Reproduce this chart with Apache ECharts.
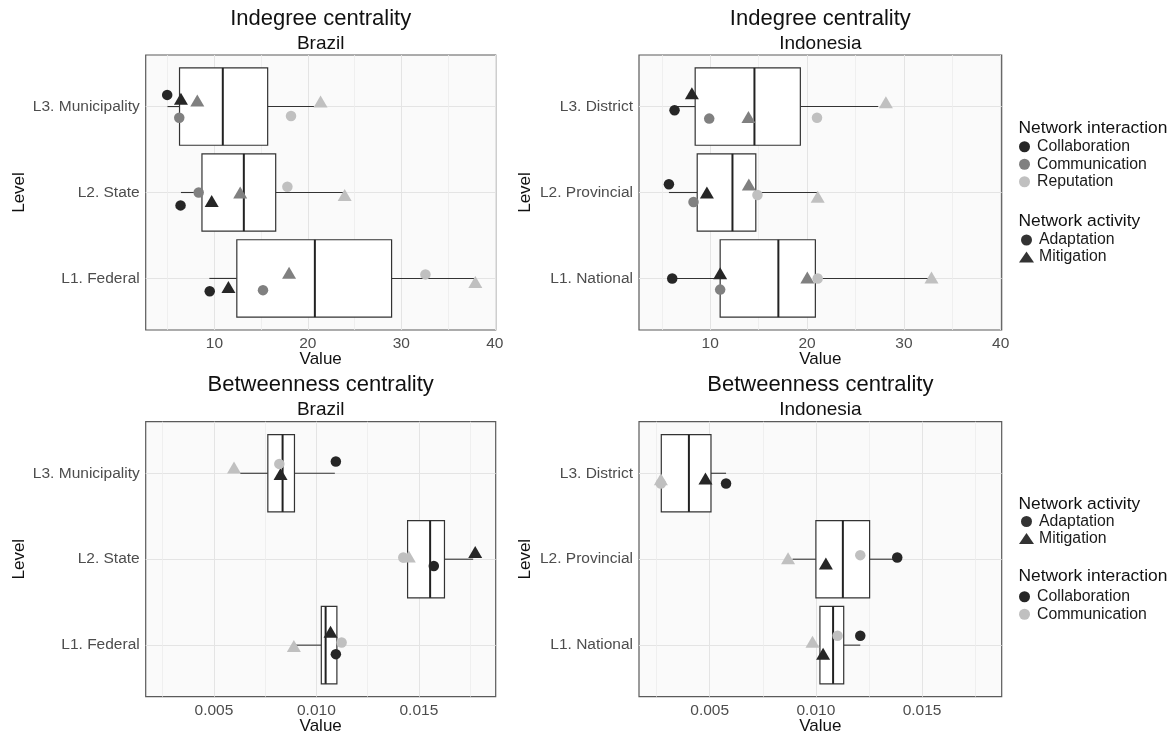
<!DOCTYPE html>
<html><head><meta charset="utf-8">
<script src="https://cdn.jsdelivr.net/npm/echarts@6.0.0/dist/echarts.min.js"></script>
<style>html,body{margin:0;padding:0;background:#fff}#chart{width:1172px;height:738px}</style>
</head><body><div id="chart"></div>
<script>
const FONT = '"Liberation Sans", Arial, Helvetica, sans-serif';
const C_DARK = '#262626', C_MID = '#808080', C_LIGHT = '#c0c0c0';

// ---- categories & tick labels ----
const levelsBrazil = ['L1. Federal', 'L2. State', 'L3. Municipality'];
const levelsIndonesia = ['L1. National', 'L2. Provincial', 'L3. District'];
const indegreeTicks = [10, 20, 30, 40];
const indegreeMinor = [5, 15, 25, 35];
const betweenTicks = [0.005, 0.010, 0.015];
const betweenMinor = [0.0025, 0.0075, 0.0125, 0.0175];

// ---- box statistics, rows L1, L2, L3: [lower whisker, Q1, median, Q3, upper whisker] ----
const indegBrazilBox = [
  [9.46, 12.4, 20.75, 28.96, 37.78],
  [6.42, 8.67, 13.15, 16.56, 23.87],
  [4.98, 6.27, 10.9, 15.7, 20.65]
];
const indegIndonesiaBox = [
  [6.08, 11.03, 17.04, 20.86, 32.85],
  [5.74, 8.66, 12.3, 14.71, 21.07],
  [6.3, 8.45, 14.57, 19.31, 27.35]
];
const betwBrazilBox = [
  [0.0089, 0.01024, 0.01045, 0.0110, 0.0110],
  [0.0143, 0.01445, 0.01555, 0.01625, 0.01765],
  [0.00627, 0.00763, 0.00835, 0.00893, 0.0109]
];
const betwIndonesiaBox = [
  [0.01019, 0.01019, 0.01081, 0.01131, 0.01209],
  [0.0089, 0.0100, 0.01127, 0.01253, 0.01383],
  [0.00272, 0.00272, 0.00402, 0.00506, 0.00577]
];

// ---- points: [interaction, activity, value, jittered level position] ----
const indegBrazilPts = [
  ['Collaboration', 'Adaptation', 9.5, 0.85],
  ['Collaboration', 'Mitigation', 11.5, 0.90],
  ['Communication', 'Adaptation', 15.2, 0.864],
  ['Communication', 'Mitigation', 17.99, 1.066],
  ['Reputation', 'Adaptation', 32.58, 1.047],
  ['Reputation', 'Mitigation', 37.92, 0.96],
  ['Collaboration', 'Adaptation', 6.38, 1.85],
  ['Collaboration', 'Mitigation', 9.71, 1.90],
  ['Communication', 'Adaptation', 8.32, 2.0],
  ['Communication', 'Mitigation', 12.76, 2.0],
  ['Reputation', 'Adaptation', 17.81, 2.066],
  ['Reputation', 'Mitigation', 23.94, 1.97],
  ['Collaboration', 'Adaptation', 4.95, 3.136],
  ['Collaboration', 'Mitigation', 6.42, 3.09],
  ['Communication', 'Adaptation', 6.24, 2.87],
  ['Communication', 'Mitigation', 8.17, 3.07],
  ['Reputation', 'Adaptation', 18.2, 2.89],
  ['Reputation', 'Mitigation', 21.36, 3.06]
];
const indegIndonesiaPts = [
  ['Collaboration', 'Adaptation', 6.08, 1.0],
  ['Collaboration', 'Mitigation', 11.03, 1.06],
  ['Communication', 'Adaptation', 11.03, 0.87],
  ['Communication', 'Mitigation', 20.03, 1.01],
  ['Reputation', 'Adaptation', 21.1, 1.0],
  ['Reputation', 'Mitigation', 32.85, 1.01],
  ['Collaboration', 'Adaptation', 5.74, 2.097],
  ['Collaboration', 'Mitigation', 9.66, 2.0],
  ['Communication', 'Adaptation', 8.28, 1.89],
  ['Communication', 'Mitigation', 13.99, 2.093],
  ['Reputation', 'Adaptation', 14.88, 1.97],
  ['Reputation', 'Mitigation', 21.1, 1.95],
  ['Collaboration', 'Adaptation', 6.32, 2.957],
  ['Collaboration', 'Mitigation', 8.11, 3.155],
  ['Communication', 'Adaptation', 9.9, 2.86],
  ['Communication', 'Mitigation', 13.95, 2.88],
  ['Reputation', 'Adaptation', 21.03, 2.87],
  ['Reputation', 'Mitigation', 28.14, 3.05]
];
const betwBrazilPts = [
  ['Collaboration', 'Adaptation', 0.01095, 0.895],
  ['Collaboration', 'Mitigation', 0.01069, 1.155],
  ['Communication', 'Adaptation', 0.01123, 1.03],
  ['Communication', 'Mitigation', 0.0089, 0.99],
  ['Collaboration', 'Adaptation', 0.01573, 1.92],
  ['Collaboration', 'Mitigation', 0.01775, 2.085],
  ['Communication', 'Adaptation', 0.01424, 2.02],
  ['Communication', 'Mitigation', 0.01451, 2.03],
  ['Collaboration', 'Adaptation', 0.01095, 3.136],
  ['Collaboration', 'Mitigation', 0.00825, 2.99],
  ['Communication', 'Adaptation', 0.00819, 3.109],
  ['Communication', 'Mitigation', 0.00598, 3.066]
];
const betwIndonesiaPts = [
  ['Collaboration', 'Adaptation', 0.01209, 1.11],
  ['Collaboration', 'Mitigation', 0.01034, 0.90],
  ['Communication', 'Adaptation', 0.01102, 1.11],
  ['Communication', 'Mitigation', 0.00984, 1.04],
  ['Collaboration', 'Adaptation', 0.01383, 2.02],
  ['Collaboration', 'Mitigation', 0.01047, 1.95],
  ['Communication', 'Adaptation', 0.01209, 2.047],
  ['Communication', 'Mitigation', 0.00869, 2.01],
  ['Collaboration', 'Adaptation', 0.00577, 2.88],
  ['Collaboration', 'Mitigation', 0.0048, 2.94],
  ['Communication', 'Adaptation', 0.0027, 2.88],
  ['Communication', 'Mitigation', 0.0027, 2.93]
];

const topColors = {Collaboration: C_DARK, Communication: C_MID, Reputation: C_LIGHT};
const bottomColors = {Collaboration: C_DARK, Communication: C_LIGHT};

const panels = [
  {title: 'Indegree centrality', sub: 'Brazil', levels: levelsBrazil, box: indegBrazilBox, pts: indegBrazilPts,
   ticks: indegreeTicks, minor: indegreeMinor, xMin: 2.65, xMax: 40.1, dec: 0, colors: topColors,
   rect: [145.7, 55, 350, 275], levelX: 19.5},
  {title: 'Indegree centrality', sub: 'Indonesia', levels: levelsIndonesia, box: indegIndonesiaBox, pts: indegIndonesiaPts,
   ticks: indegreeTicks, minor: indegreeMinor, xMin: 2.65, xMax: 40.1, dec: 0, colors: topColors,
   rect: [639, 55, 362.7, 275], levelX: 525},
  {title: 'Betweenness centrality', sub: 'Brazil', levels: levelsBrazil, box: betwBrazilBox, pts: betwBrazilPts,
   ticks: betweenTicks, minor: betweenMinor, xMin: 0.00167, xMax: 0.01875, dec: 3, colors: bottomColors,
   rect: [145.7, 421.7, 350, 275], levelX: 19.5},
  {title: 'Betweenness centrality', sub: 'Indonesia', levels: levelsIndonesia, box: betwIndonesiaBox, pts: betwIndonesiaPts,
   ticks: betweenTicks, minor: betweenMinor, xMin: 0.00167, xMax: 0.01875, dec: 3, colors: bottomColors,
   rect: [639, 421.7, 362.7, 275], levelX: 525}
];

const BOX_H = 0.9;
function renderBox(params, api) {
  const lvl = api.value(0);
  const lo = api.coord([api.value(1), lvl]);
  const q1 = api.coord([api.value(2), lvl]);
  const md = api.coord([api.value(3), lvl]);
  const q3 = api.coord([api.value(4), lvl]);
  const hi = api.coord([api.value(5), lvl]);
  const h = Math.abs(api.size([0, BOX_H])[1]);
  const y = q1[1];
  const ls = {stroke: '#333333', lineWidth: 1.1};
  return {type: 'group', children: [
    {type: 'line', shape: {x1: lo[0], y1: y, x2: q1[0], y2: y}, style: ls},
    {type: 'line', shape: {x1: q3[0], y1: y, x2: hi[0], y2: y}, style: ls},
    {type: 'rect', shape: {x: q1[0], y: y - h / 2, width: q3[0] - q1[0], height: h},
     style: {fill: '#ffffff', stroke: '#333333', lineWidth: 1.2}},
    {type: 'line', shape: {x1: md[0], y1: y - h / 2, x2: md[0], y2: y + h / 2},
     style: {stroke: '#222222', lineWidth: 2}}
  ]};
}

const grid = [], xAxis = [], yAxis = [], series = [], graphic = [];
const labelStyle = {color: '#4d4d4d', fontSize: 15.5, fontFamily: FONT};
panels.forEach((p, i) => {
  const [l, t, w, h] = p.rect;
  grid.push({left: l, top: t, width: w, height: h, show: true, backgroundColor: '#fafafa',
    borderColor: '#5a5a5a', borderWidth: 1.2, containLabel: false, outerBoundsMode: 'none'});
  xAxis.push({type: 'value', gridIndex: i, min: p.xMin, max: p.xMax, position: 'bottom',
    axisLine: {show: false}, axisTick: {show: false, customValues: p.ticks},
    axisLabel: Object.assign({customValues: p.ticks, margin: 6, formatter: v => v.toFixed(p.dec)}, labelStyle),
    splitLine: {show: true, lineStyle: {color: '#e4e4e4', width: 1}}});
  xAxis.push({type: 'value', gridIndex: i, min: p.xMin, max: p.xMax, position: 'top',
    axisLine: {show: false}, axisTick: {show: false, customValues: p.minor},
    axisLabel: {show: false, customValues: p.minor},
    splitLine: {show: true, lineStyle: {color: '#ececec', width: 0.8}}});
  yAxis.push({type: 'value', gridIndex: i, min: 0.4, max: 3.6,
    axisLine: {show: false}, axisTick: {show: false, customValues: [1, 2, 3]},
    axisLabel: Object.assign({customValues: [1, 2, 3], margin: 6, formatter: v => p.levels[Math.round(v) - 1]}, labelStyle),
    splitLine: {show: true, lineStyle: {color: '#e4e4e4', width: 1}}});
  series.push({type: 'custom', xAxisIndex: 2 * i, yAxisIndex: i, z: 2, silent: true,
    renderItem: renderBox, encode: {x: [1, 2, 3, 4, 5], y: 0},
    data: p.box.map((b, k) => [k + 1].concat(b))});
  Object.keys(p.colors).forEach(name => {
    series.push({type: 'scatter', name: name, xAxisIndex: 2 * i, yAxisIndex: i, z: 3,
      itemStyle: {color: p.colors[name], opacity: 1},
      data: p.pts.filter(r => r[0] === name).map(r => ({
        value: [r[2], r[3]],
        symbol: r[1] === 'Mitigation' ? 'triangle' : 'circle',
        symbolSize: r[1] === 'Mitigation' ? [14, 12] : 10.5
      }))});
  });
  const cx = l + w / 2;
  graphic.push({type: 'text', x: cx, y: t - 36.5, silent: true,
    style: {text: p.title, fontSize: 22, fontFamily: FONT, fill: '#111', align: 'center', verticalAlign: 'middle'}});
  graphic.push({type: 'text', x: cx, y: t - 11.5, silent: true,
    style: {text: p.sub, fontSize: 19, fontFamily: FONT, fill: '#111', align: 'center', verticalAlign: 'middle'}});
  graphic.push({type: 'text', x: cx, y: t + h + 29.5, silent: true,
    style: {text: 'Value', fontSize: 17, fontFamily: FONT, fill: '#111', align: 'center', verticalAlign: 'middle'}});
  graphic.push({type: 'text', x: p.levelX, y: t + h / 2, rotation: Math.PI / 2, silent: true,
    style: {text: 'Level', fontSize: 17, fontFamily: FONT, fill: '#111', align: 'center', verticalAlign: 'middle'}});
});

// dummy series for the shape legend
series.push({type: 'scatter', name: 'Adaptation', xAxisIndex: 0, yAxisIndex: 0, data: [], itemStyle: {color: '#000'}});
series.push({type: 'scatter', name: 'Mitigation', xAxisIndex: 0, yAxisIndex: 0, data: [], symbol: 'triangle', itemStyle: {color: '#000'}});

const legendTitles = [
  ['Network interaction', 128.3], ['Network activity', 221.7],
  ['Network activity', 504.3], ['Network interaction', 576.7]
];
legendTitles.forEach(([txt, y]) => graphic.push({type: 'text', x: 1018.5, y: y, silent: true,
  style: {text: txt, fontSize: 17.4, fontFamily: FONT, fill: '#111', align: 'left', verticalAlign: 'middle'}}));

const legendBase = {orient: 'vertical', left: 1019, itemGap: 0, itemWidth: 15, itemHeight: 11, padding: 0,
  selectedMode: false, textStyle: {fontSize: 15.8, fontFamily: FONT, color: '#1a1a1a', lineHeight: 17.5}};
const shapeItems = [
  {name: 'Adaptation', icon: 'circle', itemStyle: {color: '#000'}},
  {name: 'Mitigation', icon: 'triangle', itemStyle: {color: '#000'}}
];
const legend = [
  Object.assign({}, legendBase, {top: 138, data: [
    {name: 'Collaboration', icon: 'circle', itemStyle: {color: C_DARK}},
    {name: 'Communication', icon: 'circle', itemStyle: {color: C_MID}},
    {name: 'Reputation', icon: 'circle', itemStyle: {color: C_LIGHT}}]}),
  Object.assign({}, legendBase, {top: 231.5, textStyle: Object.assign({}, legendBase.textStyle, {lineHeight: 17}), data: shapeItems}),
  Object.assign({}, legendBase, {top: 513, textStyle: Object.assign({}, legendBase.textStyle, {lineHeight: 17}), data: shapeItems}),
  Object.assign({}, legendBase, {top: 588, data: [
    {name: 'Collaboration', icon: 'circle', itemStyle: {color: C_DARK}},
    {name: 'Communication', icon: 'circle', itemStyle: {color: C_LIGHT}}]})
];

const chart = echarts.init(document.getElementById('chart'), null, {renderer: 'canvas'});
chart.setOption({
  animation: false,
  backgroundColor: '#ffffff',
  textStyle: {fontFamily: FONT},
  grid, xAxis, yAxis, series, legend, graphic
});
</script></body></html>
